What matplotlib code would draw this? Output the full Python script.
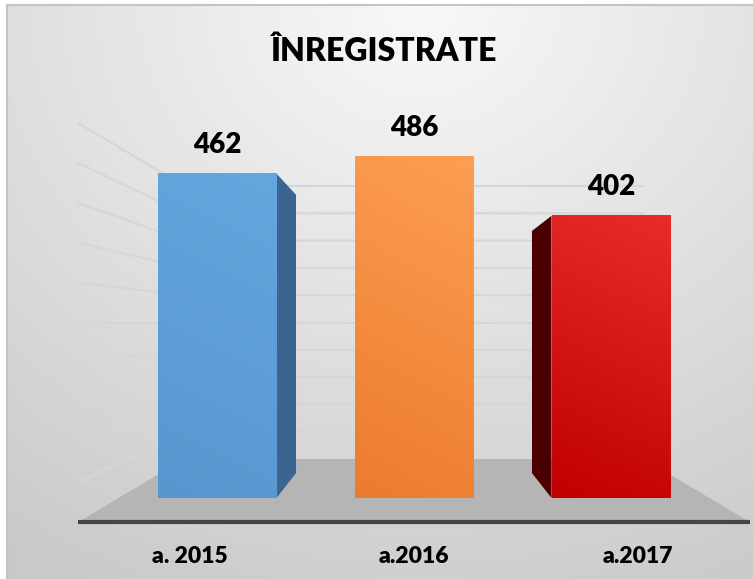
import numpy as np
import matplotlib
matplotlib.use('Agg')
import matplotlib.pyplot as plt
from matplotlib.patches import Polygon

plt.rcParams['font.family'] = ['Lato', 'DejaVu Sans']

# data ------------------------------------------------------------
categories = ['a. 2015', 'a.2016', 'a.2017']
values = [462, 486, 402]
title = 'ÎNREGISTRATE'
grid_values = list(range(50, 501, 50))

front_colors = [('#65a6df', '#5896d0'), ('#fd9e52', '#ec7b2f'), ('#e72b2b', '#c10000')]
side_colors = ['#3a6590', None, '#4a0000']

W, H = 753, 579

# perspective set-up (vanishing point in data units, depth scale factors)
vx, vy = 1.0, 250.0
f_front, f_bar, f_wall = 1.136, 0.858, 0.778
half = 0.302


def proj(x, v, f):
    return vx + (x - vx) * f, vy + (v - vy) * f


fig = plt.figure(figsize=(W / 100, H / 100), dpi=100)

# background gradient --------------------------------------------
bg = fig.add_axes([0, 0, 1, 1])
bg.set_axis_off()
yy, xx = np.mgrid[0:H, 0:W]
r = np.clip(np.hypot((xx - 420) / 1.15, yy - 5) / 650, 0, 1)
img = 0.975 + (0.79 - 0.975) * r
img[:5, :] = 1.0
img[:, :7] = 1.0
bg.imshow(np.dstack([img] * 3), extent=(0, W, H, 0), aspect='auto', interpolation='bilinear')
bg.plot([7, W], [5, 5], color='#c4c4c4', lw=1.5)
bg.plot([7, 7], [5, H], color='#c4c4c4', lw=1.5)
bg.set_xlim(0, W)
bg.set_ylim(H, 0)

# main axes = front plane of the bars ------------------------------
px_left, px_right = 118.5, 709.5
y0_px, ytop_px = 498, 147
ax = fig.add_axes([px_left / W, 1 - y0_px / H, (px_right - px_left) / W, (y0_px - ytop_px) / H])
ax.set_axis_off()
ax.patch.set_alpha(0)

# gridlines: left wall + back wall
for v in grid_values:
    a = proj(-0.5, v, f_front)
    b = proj(-0.5, v, f_wall)
    c = proj(2.5, v, f_wall)
    ax.plot([a[0], b[0], c[0]], [a[1], b[1], c[1]], color='#d6d6d6', lw=1.5,
            clip_on=False, zorder=1)

# floor
corners = [proj(-0.5, 0, f_front), proj(2.5, 0, f_front), proj(2.5, 0, f_wall), proj(-0.5, 0, f_wall)]
ax.add_patch(Polygon(corners, closed=True, fc='#b5b5b5', ec='none', clip_on=False, zorder=2))
ax.plot([corners[0][0], corners[1][0]], [corners[0][1], corners[1][1]], color='#454545',
        lw=3, solid_capstyle='butt', clip_on=False, zorder=2)

# bars
for i, v in enumerate(values):
    x0, x1 = i - half, i + half
    edge = None
    if x1 < vx:
        edge = x1
    elif x0 > vx:
        edge = x0
    if edge is not None:
        pts = [(edge, 0), (edge, v), proj(edge, v, f_bar), proj(edge, 0, f_bar)]
        ax.add_patch(Polygon(pts, closed=True, fc=side_colors[i], ec='none', clip_on=False, zorder=3))
    top_c = np.array(matplotlib.colors.to_rgb(front_colors[i][0]))
    bot_c = np.array(matplotlib.colors.to_rgb(front_colors[i][1]))
    ty, tx = np.mgrid[0:64, 0:16]
    t = np.clip(0.85 * ty / 63 + 0.15 * tx / 15, 0, 1)[..., None]
    grad = bot_c + (top_c - bot_c) * t
    ax.imshow(grad, extent=(x0, x1, 0, v), origin='lower', aspect='auto', zorder=4,
              interpolation='bilinear')
    ax.annotate(str(v), (i, v), xytext=(0, 15), textcoords='offset points', ha='center',
                va='baseline', fontsize=20, fontweight='heavy', color='black',
                annotation_clip=False, zorder=5)
    lx, ly = proj(i, 0, f_front)
    ax.annotate(categories[i], (lx, ly), xytext=(0, -29.5), textcoords='offset points',
                ha='center', va='baseline', fontsize=16.5, fontweight='heavy', color='black',
                annotation_clip=False, zorder=5)

ax.set_xlim(-0.5, 2.5)
ax.set_ylim(0, 500)

fig.text(383 / W, 1 - 61 / H, title, ha='center', va='baseline', fontsize=23,
         fontweight='heavy', color='black')

fig.savefig('out.png', dpi=100)
